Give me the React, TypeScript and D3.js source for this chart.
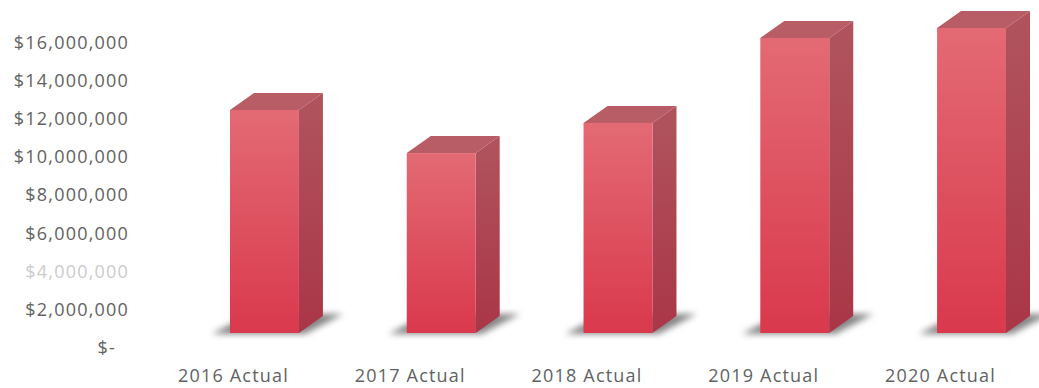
import React, { useEffect, useRef } from "react";
import * as d3 from "d3";

const categories = ["2016 Actual", "2017 Actual", "2018 Actual", "2019 Actual", "2020 Actual"];
const values = [11680000, 9420000, 11000000, 15450000, 15970000];
const yTicks = [0, 2000000, 4000000, 6000000, 8000000, 10000000, 12000000, 14000000, 16000000];

const W = 1039;
const H = 388;

export default function App() {
  const ref = useRef<SVGSVGElement | null>(null);

  useEffect(() => {
    const svg = d3.select(ref.current);
    svg.selectAll("*").remove();

    const x = d3.scaleBand<string>().domain(categories).range([230, 1006]).paddingInner(0.61).paddingOuter(0);
    const y = d3.scaleLinear().domain([0, 16000000]).range([333, 333 - 16 * 19.1]);
    const dx = 24;
    const dy = -17;

    const defs = svg.append("defs");
    const gFront = defs.append("linearGradient").attr("id", "gFront").attr("x1", 0).attr("y1", 0).attr("x2", 0).attr("y2", 1);
    gFront.append("stop").attr("offset", "0%").attr("stop-color", "#e36a74");
    gFront.append("stop").attr("offset", "100%").attr("stop-color", "#d9394c");
    const gSide = defs.append("linearGradient").attr("id", "gSide").attr("x1", 0).attr("y1", 0).attr("x2", 0).attr("y2", 1);
    gSide.append("stop").attr("offset", "0%").attr("stop-color", "#b0545d");
    gSide.append("stop").attr("offset", "100%").attr("stop-color", "#aa3646");
    const blur = defs.append("filter").attr("id", "blur").attr("x", "-50%").attr("y", "-50%").attr("width", "200%").attr("height", "200%");
    blur.append("feGaussianBlur").attr("stdDeviation", 3);

    // y axis labels
    const fmt = (v: number) => (v === 0 ? "$-" : d3.format("$,")(v));
    const axis = d3.axisLeft(y).tickValues(yTicks).tickFormat((d) => fmt(+d)).tickSize(0).tickPadding(0);
    const ag = svg.append("g").attr("transform", "translate(129,15)").call(axis as any);
    ag.select(".domain").remove();
    ag.selectAll("text")
      .attr("font-family", "'Open Sans', sans-serif")
      .attr("font-size", 18)
      .attr("letter-spacing", 1.2)
      .attr("fill", (d: any) => (+d === 4000000 ? "#cbcbcb" : "#626262"))
      .attr("dx", (d: any) => (+d === 0 ? -13 : 0));

    const g = svg.append("g");
    categories.forEach((c, i) => {
      const v = values[i];
      const x0 = x(c)!;
      const x1 = x0 + x.bandwidth();
      const y0 = y(0);
      const yt = y(v);
      // shadow
      g.append("polygon")
        .attr("points", [
          [x0 - 18, y0 + 1],
          [x1 + 6, y0 + 1],
          [x1 + dx + 20, y0 + dy - 2],
          [x0 + dx - 4, y0 + dy - 2],
        ].map((p) => p.join(",")).join(" "))
        .attr("fill", "#6f6f6f")
        .attr("opacity", 0.85)
        .attr("filter", "url(#blur)");
      // side
      g.append("polygon")
        .attr("points", [[x1, yt], [x1 + dx, yt + dy], [x1 + dx, y0 + dy], [x1, y0]].map((p) => p.join(",")).join(" "))
        .attr("fill", "url(#gSide)");
      // top
      g.append("polygon")
        .attr("points", [[x0, yt], [x0 + dx, yt + dy], [x1 + dx, yt + dy], [x1, yt]].map((p) => p.join(",")).join(" "))
        .attr("fill", "#b85c65");
      // front
      g.append("rect")
        .attr("x", x0)
        .attr("y", yt)
        .attr("width", x.bandwidth())
        .attr("height", y0 - yt)
        .attr("fill", "url(#gFront)");
      // label
      svg.append("text")
        .attr("x", x0 + x.bandwidth() / 2 - 31)
        .attr("y", 376)
        .attr("dy", "0.35em")
        .attr("text-anchor", "middle")
        .attr("font-family", "'Open Sans', sans-serif")
        .attr("font-size", 18)
        .attr("letter-spacing", 1.2)
        .attr("fill", "#626262")
        .text(c);
    });
  }, []);

  return (
    <svg
      ref={ref}
      width={W}
      height={H}
      style={{ position: "absolute", left: 0, top: 0, background: "#ffffff" }}
    />
  );
}
